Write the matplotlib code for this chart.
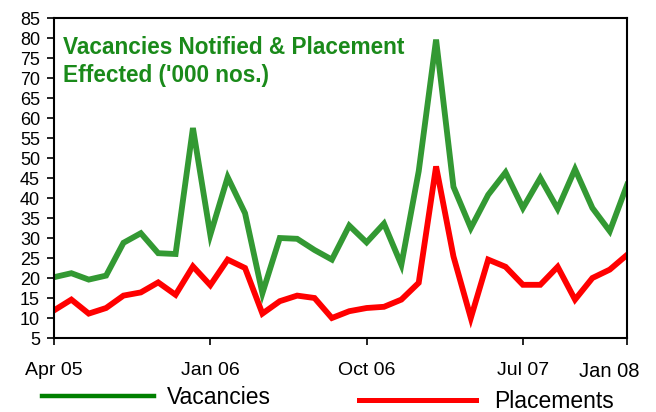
import matplotlib.pyplot as plt

plt.rcParams['font.family'] = ['Liberation Sans', 'DejaVu Sans']

months = ['Apr 05', 'May 05', 'Jun 05', 'Jul 05', 'Aug 05', 'Sep 05', 'Oct 05', 'Nov 05',
          'Dec 05', 'Jan 06', 'Feb 06', 'Mar 06', 'Apr 06', 'May 06', 'Jun 06', 'Jul 06',
          'Aug 06', 'Sep 06', 'Oct 06', 'Nov 06', 'Dec 06', 'Jan 07', 'Feb 07', 'Mar 07',
          'Apr 07', 'May 07', 'Jun 07', 'Jul 07', 'Aug 07', 'Sep 07', 'Oct 07', 'Nov 07',
          'Dec 07', 'Jan 08']
vacancies = [20.2, 21.2, 19.6, 20.6, 28.8, 31.2, 26.2, 26.0, 57.5, 30.8, 45.2, 36.2,
             16.2, 30.0, 29.8, 27.0, 24.6, 33.1, 28.9, 33.6, 23.3, 46.7, 79.6, 42.8,
             32.5, 40.8, 46.4, 37.5, 45.0, 37.3, 47.2, 37.5, 31.7, 43.3]
placements = [11.9, 14.6, 11.1, 12.5, 15.6, 16.4, 18.9, 15.8, 22.9, 18.2, 24.6, 22.5,
              11.1, 14.2, 15.6, 15.0, 10.0, 11.7, 12.5, 12.8, 14.6, 18.8, 47.9, 25.4,
              10.0, 24.6, 22.8, 18.3, 18.3, 22.8, 14.6, 20.0, 22.1, 25.8]
tick_labels = ['Apr 05', 'Jan 06', 'Oct 06', 'Jul 07', 'Jan 08']

fig = plt.figure(figsize=(6.56, 4.12), dpi=100)
ax = fig.add_axes([0.0823, 0.1796, 0.8737, 0.7767])

x = list(range(len(months)))
l1, = ax.plot(x, vacancies, color='#339933', lw=4.2, solid_joinstyle='miter')
l2, = ax.plot(x, placements, color='#ff0000', lw=4.2, solid_joinstyle='miter')

ax.set_xlim(0, len(months) - 1)
ax.set_ylim(5, 85)
ax.set_yticks(range(5, 86, 5))
ticks = [months.index(t) for t in tick_labels]
ax.set_xticks(ticks)
# last label sits a bit left of its tick in the original
ax.set_xticklabels(tick_labels[:-1] + [''])
ax.annotate(tick_labels[-1], xy=(ticks[-1], 0), xycoords=('data', 'axes fraction'),
            xytext=(-13, -17), textcoords='offset points', ha='center', va='top',
            fontsize=14.5)
ax.tick_params(axis='y', labelsize=13, length=5, width=1.2, pad=5)
ax.tick_params(axis='x', labelsize=14, length=5, width=1.2, pad=12)
for s in ax.spines.values():
    s.set_linewidth(1.5)

ax.text(0.015, 0.945, "Vacancies Notified & Placement\nEffected ('000 nos.)",
        transform=ax.transAxes, ha='left', va='top', fontsize=16.3,
        fontweight='bold', color='#1a8a1a', linespacing=1.3)

leg1 = fig.legend([l1], ['Vacancies'], loc='center left', bbox_to_anchor=(0.064, 0.035),
                  frameon=False, fontsize=16.5, handlelength=4.9, handletextpad=0.57,
                  borderpad=0, borderaxespad=0)
leg2 = fig.legend([l2], ['Placements'], loc='center left', bbox_to_anchor=(0.547, 0.025),
                  frameon=False, fontsize=16.5, handlelength=5.1, handletextpad=0.8,
                  borderpad=0, borderaxespad=0)
leg1.get_lines()[0].set_color('#008000')
leg1.get_lines()[0].set_linewidth(3.2)
leg2.get_lines()[0].set_linewidth(3.6)

fig.savefig('out.png', dpi=100)
